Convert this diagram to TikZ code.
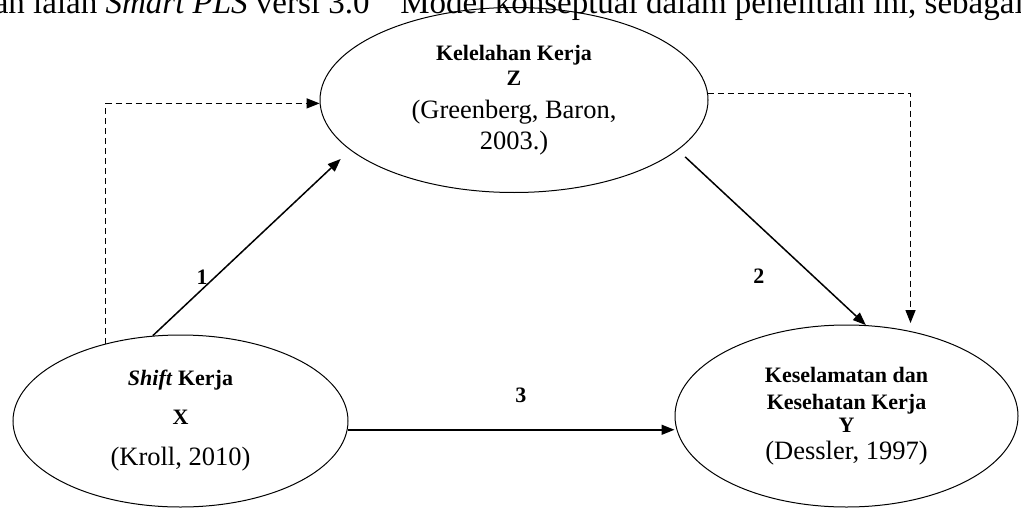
\documentclass[tikz,border=0pt]{standalone}
\usepackage{fontspec}
\setmainfont{Liberation Serif}
\usepackage{tikz}
\usetikzlibrary{arrows.meta,shapes.geometric}
\newcommand{\srcfont}{\fontsize{13.25}{13.25}\selectfont}

\begin{document}
\begin{tikzpicture}[
  x=0.5pt, y=-0.5pt,
  var/.style={draw, ellipse, line width=0.5pt, align=center, inner sep=0pt, font=\bfseries\fontsize{11}{11}\selectfont},
  >={Triangle[length=6.5pt,width=5pt]},
  arrline/.style={->, line width=0.75pt},
  dashline/.style={->, line width=0.6pt, dash pattern=on 3pt off 2pt},
  lbl/.style={font=\bfseries\fontsize{11}{11}\selectfont, inner sep=0pt},
  intro/.style={inner sep=0pt, font=\fontsize{16.5}{16.5}\selectfont},
]
\useasboundingbox (0,0) rectangle (1021,508);
\clip (0,0) rectangle (1021,508);

% ============ cut-off body text line (top) ============
\node[intro, anchor=base east] (introL) at (370,14) {digunakan ialah \textit{Smart PLS} versi 3.0};
\node[intro, anchor=base west] (introR) at (400,14) {Model konseptual dalam penelitian ini, sebagai};

% ============ Z: Kelelahan Kerja (top) ============
\node[var, minimum width=194pt, minimum height=92.5pt] (Z) at (514,100)
  {Kelelahan Kerja\\[1.5pt] Z\\[5.5pt] {\mdseries\srcfont (Greenberg, Baron,}\\[2.5pt] {\mdseries\srcfont 2003.)}};

% ============ X: Shift Kerja (bottom left) ============
\node[var, minimum width=167.5pt, minimum height=86pt] (X) at (180.5,421)
  {\textit{Shift} Kerja\\[8.5pt] X\\[9.5pt] {\mdseries\srcfont (Kroll, 2010)}};

% ============ Y: Keselamatan dan Kesehatan Kerja (bottom right) ============
\node[var, minimum width=171.5pt, minimum height=91pt] (Y) at (846.5,416)
  {Keselamatan dan\\[2.5pt] Kesehatan Kerja\\[0.5pt] Y\\[2.5pt] {\mdseries\srcfont (Dessler, 1997)}};

% ===================== ARROWS =====================

% X -> Z (1)
\draw[arrline, shorten >=6.5pt] (X.108) -- node[lbl, pos=0.25, above=2pt] {1} (Z.197);

% Z -> Y (2)
\draw[arrline, shorten <=5pt] (Z.-17) -- node[lbl, pos=0.72, left=24pt] {2} (Y.78);

% X -> Y (3)
\draw[arrline] (X.-3) -- node[lbl, pos=0.53, above=13pt] {3} (X.-3 -| Y.west);

% dashed: X up and over to Z
\draw[dashline] (X.134) |- (Z.181);

% dashed: Z over and down to Y
\draw[dashline, shorten >=4pt] (Z.2) -| (Y.53);

\end{tikzpicture}
\end{document}
